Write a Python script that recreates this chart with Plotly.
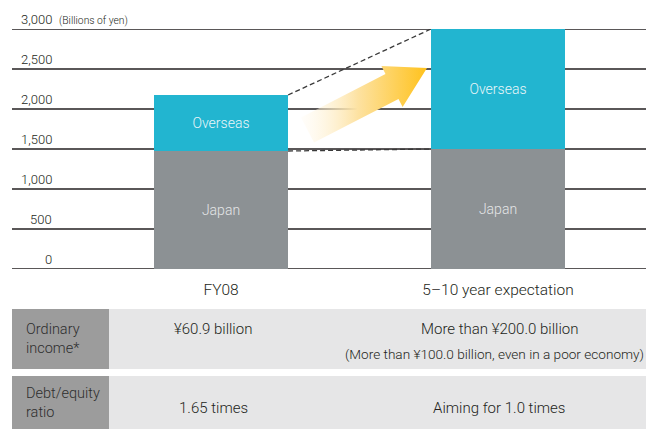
import plotly.graph_objects as go

# ---------------- data ----------------
categories = ["FY08", "5\u201310 year expectation"]
japan = [1475, 1500]
overseas = [700, 1500]
y_ticks = [0, 500, 1000, 1500, 2000, 2500, 3000]
y_tick_labels = ["0", "500", "1,000", "1,500", "2,000", "2,500", "3,000"]
unit_label = "(Billions of yen)"
row_labels = ["Ordinary<br>income*", "Debt/equity<br>ratio"]
fy08_values = ["\u00a560.9 billion", "1.65 times"]
target_values = ["More than \u00a5200.0 billion", "Aiming for 1.0 times"]
target_notes = ["(More than \u00a5100.0 billion, even in a poor economy)", ""]

# ---------------- layout helpers ----------------
W, H = 646, 429
L, R, T, B = 12, 0, 29, 160
PW, PH = W - L - R, H - T - B
FONT = "Roboto, sans-serif"
DARK = "#231f20"
C_JAPAN = "#8c9194"
C_OVER = "#22b5d0"
BAR_W = 0.484
X_RANGE = [-0.7545, 1.534]
Y_RANGE = [0, 3000]


def px_x(px):
    return (px - L) / PW


def px_y(py):
    return (H - B - py) / PH


def dx(px):
    return X_RANGE[0] + (px - L) / PW * (X_RANGE[1] - X_RANGE[0])


def dy(py):
    return Y_RANGE[0] + (H - B - py) / PH * (Y_RANGE[1] - Y_RANGE[0])


def fnt(size, color=DARK, weight=300):
    return dict(family=FONT, size=size, color=color, weight=weight)


xs = list(range(len(categories)))
totals = [j + o for j, o in zip(japan, overseas)]

fig = go.Figure()

# arrow (decorative, gradient)
arrow_px = [(301.0, 117.6), (385.5, 74.1), (381.4, 66.1), (427.0, 68.0),
            (402.6, 106.9), (398.5, 98.9), (314.0, 142.4), (301.0, 117.6)]
fig.add_trace(go.Scatter(
    x=[dx(p[0]) for p in arrow_px], y=[dy(p[1]) for p in arrow_px],
    mode="lines", line=dict(width=0), fill="toself",
    fillgradient=dict(type="horizontal",
                      colorscale=[[0, "rgba(255,250,240,0.3)"], [0.45, "#fde2a2"], [1, "#ffc21c"]]),
    hoverinfo="skip", showlegend=False))

fig.add_trace(go.Bar(
    x=xs, y=japan, name="Japan", width=BAR_W, marker=dict(color=C_JAPAN, line=dict(width=0)),
    text=["Japan"] * len(xs), textposition="inside", insidetextanchor="middle",
    textfont=fnt(14, "#e4e6e7"), showlegend=False))
fig.add_trace(go.Bar(
    x=xs, y=overseas, name="Overseas", width=BAR_W, marker=dict(color=C_OVER, line=dict(width=0)),
    text=["Overseas"] * len(xs), textposition="inside", insidetextanchor="middle",
    textfont=fnt(14, "#eaf6f9"), showlegend=False))

# dashed connectors between bar corners
for yv0, yv1 in [(totals[0], totals[1]), (japan[0], japan[1])]:
    fig.add_trace(go.Scatter(
        x=[xs[0] + BAR_W / 2, xs[1] - BAR_W / 2], y=[yv0, yv1], mode="lines",
        line=dict(color="#3a3a3a", width=1.3, dash="5px,3px"),
        hoverinfo="skip", showlegend=False))

annotations = []
shapes = []
# gridlines and y tick labels above them
for v, t in zip(y_ticks, y_tick_labels):
    shapes.append(dict(type="line", xref="paper", yref="y", x0=0, x1=1, y0=v, y1=v,
                       line=dict(color=DARK, width=1.5), layer="below"))
    annotations.append(dict(x=px_x(54), y=v, xref="paper", yref="y", text=t,
                            xanchor="right", yanchor="bottom", showarrow=False, yshift=0,
                            font=fnt(13)))
annotations.append(dict(x=px_x(57), y=y_ticks[-1], xref="paper", yref="y", text=unit_label,
                        xanchor="left", yanchor="bottom", showarrow=False, yshift=0,
                        font=fnt(10.3)))

# table
rows_px = [(309, 369), (376, 432)]
for i, (top, bot) in enumerate(rows_px):
    shapes.append(dict(type="rect", xref="paper", yref="paper", x0=px_x(12), x1=px_x(109),
                       y0=px_y(bot), y1=px_y(top), fillcolor="#9c9c9c", line=dict(width=0), layer="above"))
    shapes.append(dict(type="rect", xref="paper", yref="paper", x0=px_x(109), x1=px_x(646),
                       y0=px_y(bot), y1=px_y(top), fillcolor="#e6e6e7", line=dict(width=0), layer="above"))
    cy = (top + min(bot, 429)) / 2
    annotations.append(dict(x=px_x(24), y=px_y(cy), xref="paper", yref="paper", text=row_labels[i],
                            xanchor="left", yanchor="middle", align="left", showarrow=False,
                            font=fnt(14.5, "#2e2e2e")))
    vy = 329 if target_notes[i] else 408
    annotations.append(dict(x=px_x(213), y=px_y(vy), xref="paper", yref="paper",
                            text=fy08_values[i], xanchor="center", yanchor="middle", showarrow=False,
                            font=fnt(15)))
    annotations.append(dict(x=px_x(499), y=px_y(vy), xref="paper", yref="paper",
                            text=target_values[i], xanchor="center", yanchor="middle", showarrow=False,
                            font=fnt(15)))
    if target_notes[i]:
        annotations.append(dict(x=px_x(494), y=px_y(354), xref="paper", yref="paper",
                                text=target_notes[i], xanchor="center", yanchor="middle", showarrow=False,
                                font=fnt(13.6)))

fig.update_layout(
    width=W, height=H, margin=dict(l=L, r=R, t=T, b=B, pad=0),
    paper_bgcolor="white", plot_bgcolor="white", barmode="stack", bargap=0,
    showlegend=False, annotations=annotations, shapes=shapes,
    font=dict(family=FONT, color=DARK),
    xaxis=dict(range=X_RANGE, tickvals=xs, ticktext=categories, showgrid=False, zeroline=False,
               showline=False, ticks="outside", ticklen=6, tickcolor="rgba(0,0,0,0)",
               tickfont=fnt(15.5), fixedrange=True),
    yaxis=dict(range=Y_RANGE, tickvals=y_ticks, showticklabels=False, showgrid=False,
               zeroline=False, showline=False, fixedrange=True),
)

fig.write_html("out.html")
